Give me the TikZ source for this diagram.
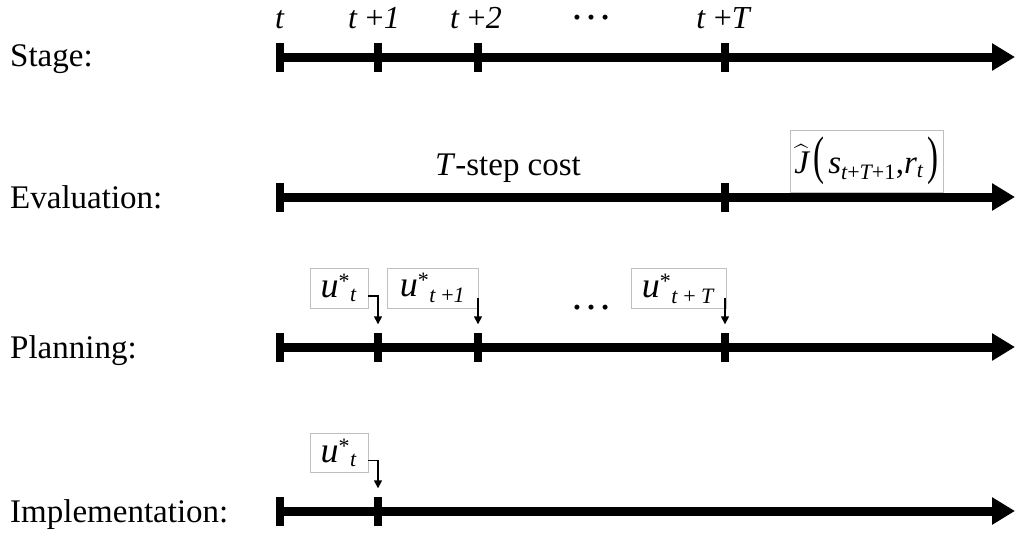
\documentclass[tikz,border=0pt]{standalone}
\usepackage{amsmath}
\usepackage{fontspec}
\setmainfont{Liberation Serif}
\usetikzlibrary{arrows.meta}
\DeclareMathSizes{33}{33}{22}{16}
\DeclareMathSizes{36}{36}{22}{16}
\newcommand{\ustar}[1]{$\textit{u}^{\text{*}}{}_{\text{#1}}$}

\begin{document}
\begin{tikzpicture}[x=1pt, y=-1pt,
  lbl/.style={font=\fontsize{33}{40}\selectfont, inner sep=0pt},
  stg/.style={font=\fontsize{32}{36}\selectfont, inner sep=0pt, anchor=base},
  dotsl/.style={font=\fontsize{42}{46}\selectfont, inner sep=0pt, anchor=base},
  tick/.style={fill=black, inner sep=0pt, minimum width=8pt, minimum height=29pt},
  ubox/.style={draw=gray!50, line width=0.8pt, fill=white, inner sep=0pt, font=\fontsize{36}{40}\selectfont, minimum height=40pt},
  axis/.style={line width=9pt, -{Triangle[length=23pt,width=26pt]}},
  uarr/.style={line width=1.5pt, -{Triangle[length=8pt,width=8pt]}}]
\useasboundingbox (0,0) rectangle (1015,536);
\node[lbl, anchor=base west] (lstage) at (10,66) {Stage:};
\node[lbl, anchor=base west] (leval) at (10,208) {Evaluation:};
\node[lbl, anchor=base west] (lplan) at (10,358) {Planning:};
\node[lbl, anchor=base west] (limpl) at (10,522) {Implementation:};
\coordinate (send) at (1015,57);
\coordinate (eend) at (1015,197);
\coordinate (pend) at (1015,347);
\coordinate (iend) at (1015,511);
\draw[axis] (280,57) -- (send);
\draw[axis] (280,197) -- (eend);
\draw[axis] (280,347) -- (pend);
\draw[axis] (280,511) -- (iend);
\node[tick] (s0) at (280,57) {};
\node[tick] (s1) at (378,57) {};
\node[tick] (s2) at (478,57) {};
\node[tick] (sT) at (725,57) {};
\node[tick] (e0) at (280,197) {};
\node[tick] (eT) at (725,197) {};
\node[tick] (p0) at (280,347) {};
\node[tick] (p1) at (378,347) {};
\node[tick] (p2) at (478,347) {};
\node[tick] (pT) at (725,347) {};
\node[tick] (i0) at (280,511) {};
\node[tick] (i1) at (378,511) {};
\node[stg] (st0) at (280,28) {\textit{t}};
\node[stg] (st1) at (374,28) {\textit{t} +\textit{1}};
\node[stg] (st2) at (476,28) {\textit{t} +\textit{2}};
\node[dotsl] (sdots) at (591,19) {…};
\node[stg] (stT) at (724,28) {\textit{t} +\textit{T}};
\node[lbl, anchor=base] (cost) at (508,175) {\textit{T}-step cost};
\node[ubox, font=\fontsize{33}{40}\selectfont, minimum width=153pt, minimum height=62pt] (jhat) at (866.5,161)
  {$\widehat{\textit{J}}\,\scalebox{1}[1.6]{(}\,\textit{s}_{\textit{t}\text{+}\textit{T}\text{+1}}\text{,}\textit{r}_{\textit{t}}\,\scalebox{1}[1.6]{)}$};
\node[ubox, minimum width=58pt] (pu0) at (339,288) {\ustar{\textit{t}}};
\node[ubox, minimum width=91pt] (pu1) at (432.5,288) {\ustar{\textit{t} +\textit{1}}};
\node[dotsl] (pdots) at (591,309) {…};
\node[ubox, minimum width=95pt] (puT) at (678.5,288.5) {\ustar{\textit{t} + \textit{T}}};
\node[ubox, minimum width=58pt, minimum height=39pt] (iu0) at (339,452.5) {\ustar{\textit{t}}};
\draw[uarr] ([yshift=-8pt]pu0.east) -| ([yshift=8pt]p1.north);
\draw[uarr] ([yshift=10pt]pu1.south -| p2.north) -- ([yshift=8pt]p2.north);
\draw[uarr] ([yshift=11pt]puT.south -| pT.north) -- ([yshift=8pt]pT.north);
\draw[uarr] ([yshift=-8pt]iu0.east) -| ([yshift=8pt]i1.north);
\end{tikzpicture}
\end{document}
